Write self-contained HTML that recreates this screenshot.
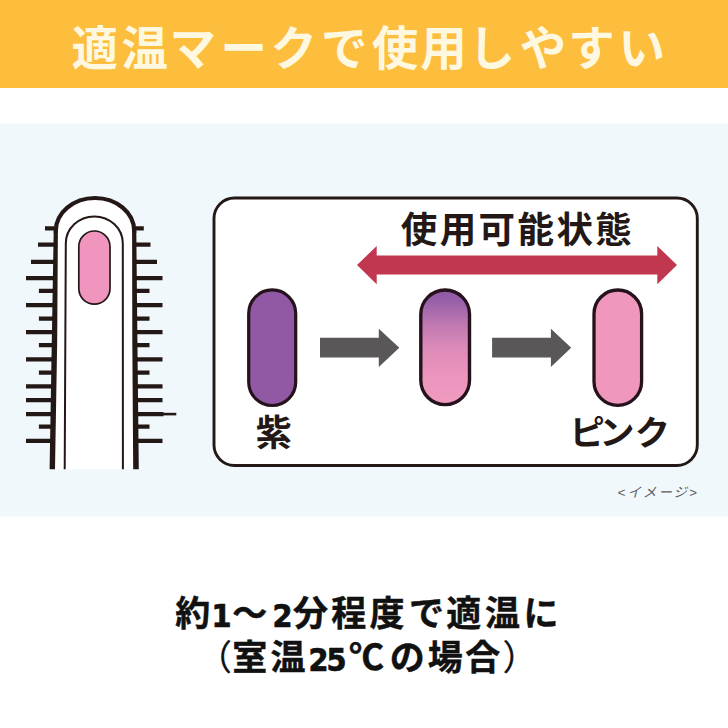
<!DOCTYPE html>
<html lang="ja">
<head>
<meta charset="utf-8">
<title>適温マークで使用しやすい</title>
<style>
html,body{margin:0;padding:0;background:#fff;}
body{width:728px;height:728px;overflow:hidden;position:relative;font-family:"Liberation Sans","Noto Sans CJK JP",sans-serif;}
svg{position:absolute;left:0;top:0;display:block;}
text{font-family:"Liberation Sans","Noto Sans CJK JP",sans-serif;}
.hd{font-size:46.5px;font-weight:700;fill:#fff8e0;}
.lbl{font-size:36px;font-weight:700;fill:#231815;}
.ttl{font-size:36.5px;font-weight:700;fill:#231815;letter-spacing:2.4px;}
.note{font-size:13.4px;font-weight:400;fill:#5f5d5d;font-style:italic;letter-spacing:2.1px;}
.pr{font-weight:400;stroke-width:0.25px;}
.bt{font-size:35px;font-weight:700;fill:#111;stroke:#111;stroke-width:0.45px;stroke-linejoin:round;}
.dg{font-family:"DejaVu Sans Condensed","DejaVu Sans","Liberation Sans",sans-serif;font-size:32px;font-weight:700;stroke-width:0.7px;}
</style>
</head>
<body>
<svg width="728" height="728" viewBox="0 0 728 728">
  <defs>
    <linearGradient id="gr" x1="0" y1="0" x2="0" y2="1">
      <stop offset="0" stop-color="#8f58a5"/>
      <stop offset="0.1" stop-color="#9861a9"/>
      <stop offset="0.3" stop-color="#bf79b2"/>
      <stop offset="0.5" stop-color="#dc8ab8"/>
      <stop offset="0.75" stop-color="#ec95bd"/>
      <stop offset="1" stop-color="#f29bc0"/>
    </linearGradient>
  </defs>
  <rect x="0" y="0" width="728" height="728" fill="#ffffff"/>
  <rect x="0" y="0" width="728" height="88" fill="#fdbd3d"/>
  <rect x="0" y="123.6" width="728" height="392.9" fill="#f0f8fc"/>

  <text class="hd" x="71.4 121.6 169.6 220.5 270.5 321 371.8 420.2 468.4 519.8 568.2 618.4" y="64.5">適温マークで使用しやすい</text>

  <!-- brush -->
  <g id="brush">
    <g stroke="#231815" stroke-width="4.2" stroke-linecap="butt" fill="none" transform="translate(0,0.15)">
      <path d="M45 228.3H54M38 244.5H54M31 261.8H54M26 278H54M38.9 290.8H54M26 305H54M38.9 318.5H54M26 332H54M38.9 345H54M26 359.2H54M38.9 372.5H54M26 386.2H54M26 400H54M26 414H54M38.9 426.5H54M26 440.8H54"/>
      <path d="M135 228.3H143.8M135 244.5H150.5M135 261.8H157M135 278H162.5M135 290.8H149.5M135 305H162.5M135 318.5H149.5M135 332H162.5M135 345H149.5M135 359.2H162.5M135 372.5H149.5M135 386.2H162.5M135 400H162.5M135 414H163.5M135 426.5H149.5M135 440.8H162.5"/>
    </g>
    <path d="M52.3 469.3 L55.8 231 A39.2 33 0 0 1 134.2 231 L136 469.3 Z" fill="#ffffff" stroke="none"/>
    <path d="M162 414.1 H176.3" stroke="#231815" stroke-width="2.6" fill="none"/>
    <path d="M55.8 233 L55.8 231 A39.2 33 0 0 1 134.2 231 L134.2 233" fill="none" stroke="#231815" stroke-width="4.2"/>
    <path d="M53.7 231 L57.9 231 L57.2 340 L55 469.3 L49.6 469.3 L51.8 340 Z" fill="#231815"/>
    <path d="M132.1 231 L136.3 231 L137.4 340 L138.8 469.3 L133.2 469.3 L132.3 340 Z" fill="#231815"/>
    <path d="M64.7 469.3 L65.8 243.4 A28.5 27 0 0 1 122.8 243.4 L122.9 469.3" fill="none" stroke="#231815" stroke-width="2"/>
    <rect x="78.8" y="231" width="31.2" height="73.2" rx="15.6" ry="15.6" fill="#f095be" stroke="#231815" stroke-width="1.7"/>
  </g>

  <!-- panel -->
  <rect x="214" y="198" width="483.3" height="267.5" rx="20.4" ry="20.4" fill="#ffffff" stroke="#231815" stroke-width="2.9"/>

  <text class="ttl" x="400.8" y="242.6">使用可能状態</text>

  <!-- red double arrow -->
  <path d="M357 265 L376.7 246 L376.7 255.5 L657.3 255.5 L657.3 246 L677 265 L657.3 284.2 L657.3 274.6 L376.7 274.6 L376.7 284.2 Z" fill="#c0374f"/>

  <!-- pills -->
  <rect x="248.7" y="289.9" width="47" height="115.6" rx="23.5" ry="23.5" fill="#9159a3" stroke="#26121c" stroke-width="3.2"/>
  <rect x="420.8" y="290" width="48.7" height="114.6" rx="24.35" ry="24.35" fill="url(#gr)" stroke="#26121c" stroke-width="3.4"/>
  <rect x="594" y="290" width="47.6" height="115.4" rx="23.8" ry="23.8" fill="#f097be" stroke="#26121c" stroke-width="3.3"/>

  <!-- grey arrows -->
  <path d="M320 337.8 H378.8 V328.8 L399.3 347.8 L378.8 367 V357.6 H320 Z" fill="#595757"/>
  <path d="M492.1 337.8 H550.9 V328.8 L571.2 347.8 L550.9 367 V357.6 H492.1 Z" fill="#595757"/>

  <text class="lbl" x="255.8" y="446.3">紫</text>
  <text class="lbl" transform="translate(569.5,445.1) scale(1.07,1.03)" x="0 27.8 61" y="0" style="font-size:33px;font-weight:700">ピンク</text>
  <text class="note" x="617.5" y="497.3">&lt;イメージ&gt;</text>

  <text class="bt" x="175.3 211.4 232.2 272.5 293 331.3 369.4 409.1 446.2 485 523.6" y="626.3 627 626.3 627 626.3 626.3 626.3 626.3 626.3 626.3 626.3">約<tspan class="dg">1</tspan>～<tspan class="dg">2</tspan>分程度で適温に</text>
  <text class="bt" x="197 232.3 270.6 308.4 326.6 349 389.8 427.7 465.3 502.6" y="670 670 670 670.7 670.7 670 670 670 670 670"><tspan class="pr">（</tspan>室温<tspan class="dg">25</tspan>℃の場合<tspan class="pr">）</tspan></text>
</svg>
</body>
</html>
